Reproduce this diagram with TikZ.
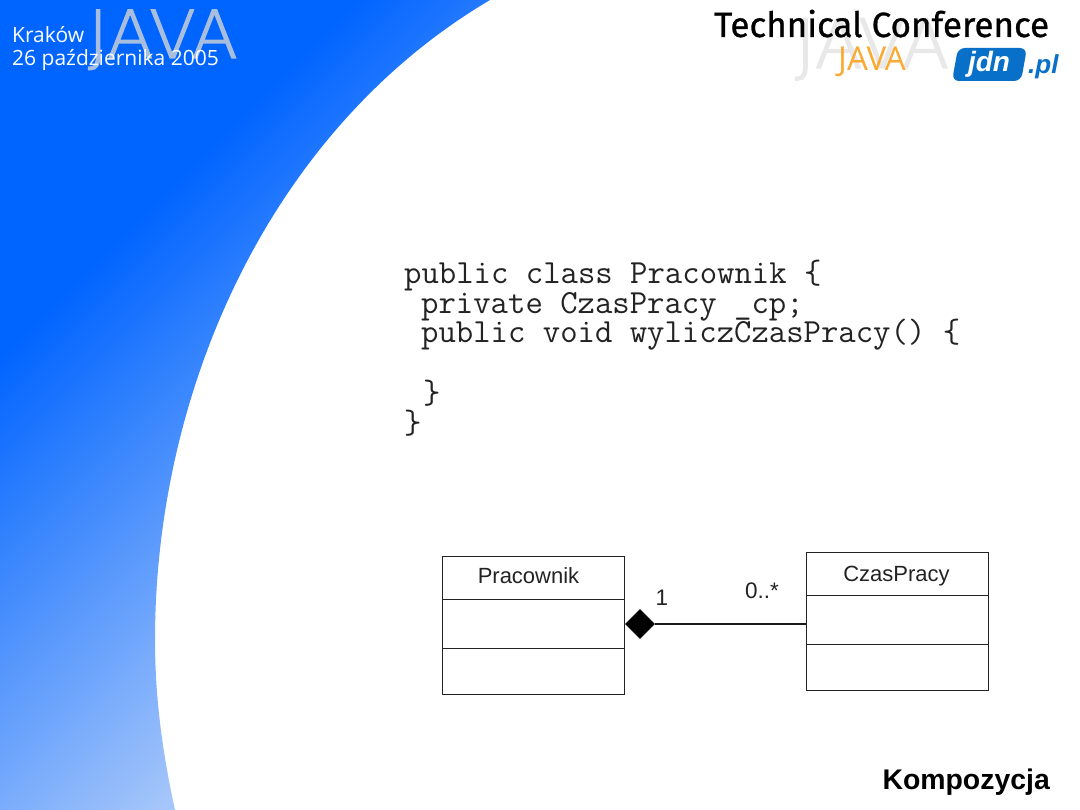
\documentclass[tikz,border=0pt]{standalone}
\usepackage{fontspec}
\setmainfont{Liberation Sans}
\newfontfamily\slidefont{Open Sans}
\newfontfamily\thinfont[FakeBold=2,FakeStretch=1.03]{DejaVu Sans ExtraLight}
\newfontfamily\technofont[FakeBold=0.8]{Fira Sans}
\usetikzlibrary{shapes.geometric}
\definecolor{logoblue}{RGB}{8,112,200}
\definecolor{wave}{RGB}{0,100,255}
\definecolor{wavelow}{RGB}{165,198,250}
\definecolor{javaleft}{RGB}{168,190,222}
\definecolor{javaright}{RGB}{232,232,232}
\definecolor{javaorange}{RGB}{250,170,50}
\definecolor{ink}{RGB}{35,35,35}
% Diagonal ramp of the band: light towards the lower right, solid blue beyond
\pgfdeclareverticalshading{waveshade}{100bp}{
  color(0bp)=(wavelow); color(53.6bp)=(wavelow); color(73.9bp)=(wave); color(100bp)=(wave)}
\tikzset{
  x=1pt,y=-1pt,
  classpart/.style={draw=ink,line width=1pt,minimum width=182pt,inner sep=0pt,outer sep=0pt,anchor=north west},
  classname/.style={font=\fontsize{22}{26}\selectfont,text=ink,inner sep=0pt},
  mult/.style={font=\fontsize{22.5}{26}\selectfont,inner sep=0pt,text=ink},
  codeline/.style={font=\ttfamily\fontsize{33.76}{33}\selectfont,anchor=base west,inner sep=0pt,text=ink},
  slideinfo/.style={font=\slidefont\fontsize{21}{24}\selectfont,anchor=base west,inner sep=0pt,text=white},
  composition/.style={diamond,aspect=1,fill=black,inner sep=0pt,minimum size=30pt},
}
\begin{document}
\begin{tikzpicture}
\useasboundingbox (0,0) rectangle (1080,810);
\fill[white] (0,0) rectangle (1080,810);
% Curved blue band on the left
\begin{scope}
  \clip (0,0) -- (490,0) .. controls (270,130) and (155,390) .. (155,640) .. controls (155,700) and (163,755) .. (175,810) -- (0,810) -- cycle;
  \shade[shading=waveshade,shading angle=45] (0,0) rectangle (1080,1080);
\end{scope}
% Conference header, left
\node[font=\thinfont\fontsize{66}{66}\selectfont,text=javaleft,anchor=base west,inner sep=0pt] (javal) at (88,58) {JAVA};
\node[slideinfo] (place) at (12,43) {Kraków};
\node[slideinfo] (date) at (12,66) {26 października 2005};
% Conference header, right
\node[font=\thinfont\fontsize{68}{68}\selectfont,text=javaright,anchor=base west,inner sep=0pt] (javar) at (795,68) {JAVA};
\node[font=\technofont\fontsize{35}{35}\selectfont,anchor=base west,inner sep=0pt] (title) at (714,37) {Technical Conference};
\node[font=\slidefont\fontsize{33}{33}\selectfont,text=javaorange,anchor=base west,inner sep=0pt] (javao) at (838,71) {JAVA};
\fill[logoblue,rounded corners=7pt] (958,48) -- (1027,48) -- (1021,81) -- (952,81) -- cycle;
\node[font=\fontsize{28}{28}\selectfont\bfseries\itshape,text=white,inner sep=0pt] (jdn) at (989,64) {jdn};
\node[font=\fontsize{26}{26}\selectfont\bfseries\itshape,text=logoblue,anchor=base west,inner sep=0pt] (pl) at (1028,74) {.pl};
% Source listing
\node[codeline] (c1) at (404,284) {public class Pracownik \{};
\node[codeline] (c2) at (421,314) {private CzasPracy \_cp;};
\node[codeline] (c3) at (421,343) {public void wyliczCzasPracy() \{};
\node[codeline] (c4) at (423,404) {\}};
\node[codeline] (c5) at (404,434) {\}};
% Class boxes
\node[classpart,minimum height=43pt] (p1) at (442,556) {};
\node[classpart,minimum height=49pt] (p2) at (442,599) {};
\node[classpart,minimum height=46pt] (p3) at (442,648) {};
\node[classname] (pname) at (528.5,575.5) {Pracownik};
\node[classpart,minimum height=43pt] (z1) at (806,552) {};
\node[classpart,minimum height=49pt] (z2) at (806,595) {};
\node[classpart,minimum height=46pt] (z3) at (806,644) {};
\node[classname] (zname) at (896.5,576) {CzasPracy};
% Composition
\node[composition] (comp) at (640,624) {};
\draw[line width=2.8pt,black!90] (comp.east) -- (comp.east -| z2.west);
\node[mult] (m1) at (662,598) {1};
\node[mult] (m2) at (762,591) {0..*};
\node[font=\fontsize{28.4}{30}\selectfont\bfseries,anchor=base east,inner sep=0pt] (name) at (1050,789) {Kompozycja};
\end{tikzpicture}
\end{document}
